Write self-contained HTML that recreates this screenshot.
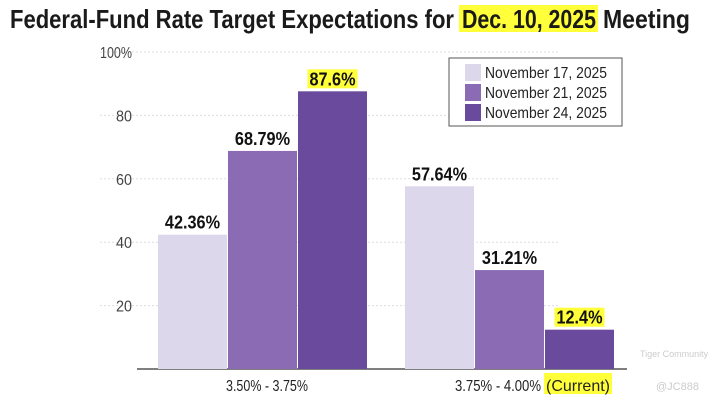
<!DOCTYPE html>
<html><head><meta charset="utf-8"><style>
body{margin:0;background:#fff;width:713px;height:401px;overflow:hidden;font-family:"Liberation Sans",sans-serif}
</style></head><body>
<svg width="713" height="401" xmlns="http://www.w3.org/2000/svg">
<g font-family="Liberation Sans, sans-serif" font-weight="bold" font-size="26" fill="#1a1a1a">
<rect x="459" y="5" width="139" height="27" fill="#ffff3a"/>
<text x="10" y="28" textLength="444" lengthAdjust="spacingAndGlyphs">Federal-Fund Rate Target Expectations for</text>
<text x="462" y="28" textLength="134" lengthAdjust="spacingAndGlyphs">Dec. 10, 2025</text>
<text x="603" y="28" textLength="87" lengthAdjust="spacingAndGlyphs">Meeting</text>
</g>
<g id="grid"></g>
<g id="bars"></g>
<g>
<rect x="449" y="58" width="173" height="68" fill="#fff" stroke="#555" stroke-width="1"/>
<rect x="465" y="64" width="16" height="17" fill="#ddd7eb"/>
<text x="485" y="78" font-size="16" fill="#222" textLength="122" lengthAdjust="spacingAndGlyphs">November 17, 2025</text>
<rect x="465" y="84" width="16" height="17" fill="#8c6bb5"/>
<text x="485" y="98" font-size="16" fill="#222" textLength="122" lengthAdjust="spacingAndGlyphs">November 21, 2025</text>
<rect x="465" y="104" width="16" height="17" fill="#6a4a9c"/>
<text x="485" y="118" font-size="16" fill="#222" textLength="122" lengthAdjust="spacingAndGlyphs">November 24, 2025</text>
</g>
<text x="640" y="357" font-size="9" fill="#ccc">Tiger Community</text>
<text x="656" y="390" font-size="11" fill="#ccc">@JC888</text>
</svg>
<script>
const categories=["3.50% - 3.75%","3.75% - 4.00%"];
const nov17=[42.36,57.64];
const nov21=[68.79,31.21];
const nov24=[87.6,12.4];
const valueLabels=[["42.36%","68.79%","87.6%"],["57.64%","31.21%","12.4%"]];
const ticks=[20,40,60,80,100];
const NS="http://www.w3.org/2000/svg";
const y0=369,yTop=52;
function y(v){return y0-(y0-yTop)*v/100;}
const groupX=[158,405];
const bw=69,gap=1;
function mk(t,a,p){const e=document.createElementNS(NS,t);for(const k in a)e.setAttribute(k,a[k]);if(p)p.appendChild(e);return e;}
const grid=document.getElementById('grid');
ticks.forEach(t=>{
  const l=mk('line',{x1:100,x2:560,y1:y(t),y2:y(t),stroke:'#ddd','stroke-dasharray':'2,2'},grid);
  
  
  const s=t===100?'100%':String(t);
  const tx=mk('text',{x:132,y:y(t)+6,'text-anchor':'end','font-size':'16',fill:'#444',textLength:s.length*8,lengthAdjust:'spacingAndGlyphs'},grid);
  tx.textContent=s;
  
  
});
const axis=mk('line',{x1:137,x2:627,y1:y0,y2:y0,stroke:'#555','stroke-width':1.5},grid);


const bars=document.getElementById('bars');
const series=[nov17,nov21,nov24];
const colors=['#ddd7eb','#8c6bb5','#6a4a9c'];
categories.forEach((c,i)=>{
  series.forEach((s,j)=>{
    const x=groupX[i]+j*(bw+gap);
    const r=mk('rect',{x:x,y:y(s[i]),width:bw,height:y0-y(s[i]),fill:colors[j]},bars);
    
    
    const lbl=valueLabels[i][j];
    const w=lbl.length*9.2;
    if(j===2){
      const h=mk('rect',{x:x+bw/2-w/2-2,y:y(s[i])-22,width:w+4,height:19,fill:'#ffff3a'},bars);
      
      
    }
    const t=mk('text',{x:x+bw/2,y:y(s[i])-6,'text-anchor':'middle','font-size':'18','font-weight':'bold',fill:'#111',textLength:w,lengthAdjust:'spacingAndGlyphs'},bars);
    t.textContent=lbl;
    
    
  });
});
const cl1=mk('text',{x:226,y:391,'font-size':'16',fill:'#222',textLength:82,lengthAdjust:'spacingAndGlyphs'},bars);
cl1.textContent=categories[0];


const hl2=mk('rect',{x:544,y:373,width:68,height:21,fill:'#ffff3a'},bars);


const cl2=mk('text',{x:455,y:391,'font-size':'16',fill:'#222',textLength:86,lengthAdjust:'spacingAndGlyphs'},bars);
cl2.textContent=categories[1];


const cl3=mk('text',{x:546,y:391,'font-size':'16',fill:'#222',textLength:64,lengthAdjust:'spacingAndGlyphs'},bars);
cl3.textContent='(Current)';


</script>
</body></html>
